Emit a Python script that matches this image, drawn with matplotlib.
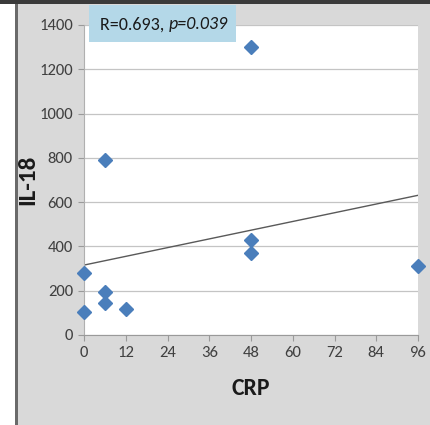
import numpy as np
import matplotlib
matplotlib.use("Agg")
import matplotlib.pyplot as plt
from matplotlib.patches import Rectangle

# CRP vs IL-18 measurements
crp = [0, 0, 6, 6, 6, 12, 48, 48, 48, 96]
il18 = [105, 280, 195, 143, 790, 117, 1300, 430, 372, 312]
x_ticks = [0, 12, 24, 36, 48, 60, 72, 84, 96]
y_ticks = [0, 200, 400, 600, 800, 1000, 1200, 1400]
stat_r = "R=0.693, "
stat_p = "p=0.039"

FONT = ["Carlito", "Fira Sans Condensed", "DejaVu Sans"]
plt.rcParams["font.family"] = FONT

W, H = 430, 425
fig = plt.figure(figsize=(W / 100, H / 100), dpi=100)
fig.patch.set_facecolor("#d9d9d9")

# frame decorations: white margin on the left, dark edge lines
fig.add_artist(Rectangle((0, 0), 15 / W, 1, transform=fig.transFigure,
                         facecolor="white", edgecolor="none", zorder=0))
fig.add_artist(Rectangle((15 / W, 0), 2.5 / W, 1, transform=fig.transFigure,
                         facecolor="#6a6a6a", edgecolor="none", zorder=0))
fig.add_artist(Rectangle((0, 1 - 4 / H), 1, 4 / H, transform=fig.transFigure,
                         facecolor="#3a3a3a", edgecolor="none", zorder=0))

ax = fig.add_axes([84 / W, 90 / H, 334 / W, 310 / H])
ax.set_facecolor("white")
ax.set_xlim(0, 96)
ax.set_ylim(0, 1400)
ax.set_xticks(x_ticks)
ax.set_yticks(y_ticks)
ax.grid(axis="y", color="#c4c4c4", linewidth=0.9)
ax.set_axisbelow(True)
for s in ("top", "right"):
    ax.spines[s].set_visible(False)
ax.spines["left"].set_color("#b0b0b0")
ax.spines["bottom"].set_color("#9a9a9a")
ax.tick_params(axis="both", colors="#9a9a9a", labelcolor="#404040",
               labelsize=12, length=4, width=0.8, pad=4)

# linear trend line over the data range
slope, intercept = np.polyfit(crp, il18, 1)
xs = np.array([min(crp), max(crp)])
ax.plot(xs, slope * xs + intercept, color="#595959", linewidth=1.0, zorder=2)

ax.plot(crp, il18, linestyle="none", marker="D", markersize=7,
        color="#4a7ebb", markeredgecolor="#4a7ebb", clip_on=False, zorder=3)

ax.set_xlabel("CRP", fontsize=17, fontweight="bold", color="#1a1a1a", labelpad=13)
ax.set_ylabel("IL-18", fontsize=18, fontweight="bold", color="#1a1a1a", labelpad=1)

# statistics box
fig.add_artist(Rectangle((89 / W, 1 - 42 / H), 147 / W, 37 / H,
                         transform=fig.transFigure, facecolor="#b4d8e8",
                         edgecolor="none", zorder=5))
t1 = fig.text(100 / W, 1 - 24.5 / H, stat_r, fontsize=13, color="#1a1a1a",
              va="center", ha="left", zorder=6)
fig.canvas.draw()
ext = t1.get_window_extent()
fig.text(ext.x1 / W, 1 - 24.5 / H, stat_p, fontsize=13, style="italic",
         color="#1a1a1a", va="center", ha="left", zorder=6)

fig.savefig("out.png", dpi=100, facecolor=fig.get_facecolor())
